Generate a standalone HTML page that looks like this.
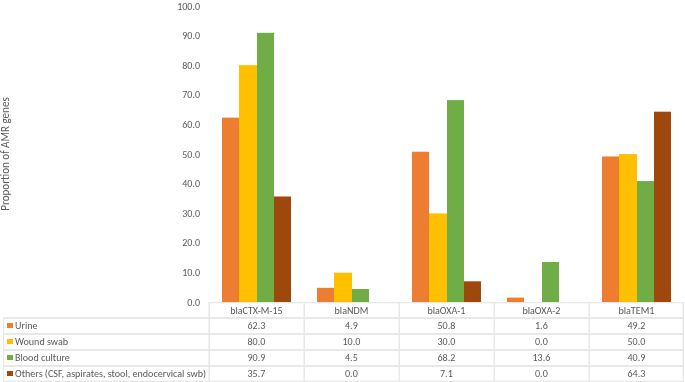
<!DOCTYPE html>
<html><head><meta charset="utf-8"><style>
html,body{margin:0;padding:0;background:#fff;}
body{width:685px;height:382px;position:relative;overflow:hidden;font-family:Carlito,"Liberation Sans",sans-serif;color:#595959;}
.a{position:absolute;}
.t{position:absolute;font-size:10.07px;line-height:12px;white-space:nowrap;}
.yl{position:absolute;right:485px;font-size:10px;line-height:12px;white-space:nowrap;}
.c{position:absolute;font-size:10.07px;line-height:12px;height:12px;text-align:center;white-space:nowrap;}
.k{position:absolute;width:6px;}
svg{position:absolute;left:0;top:0;}
</style></head><body>
<div class="a" style="left:-54.8px;top:146.9px;width:120px;height:14px;line-height:14px;font-size:11.08px;text-align:center;transform:rotate(-90deg);white-space:nowrap;">Proportion of AMR genes</div>
<div class="yl" style="top:296.60px">0.0</div>
<div class="yl" style="top:267.00px">10.0</div>
<div class="yl" style="top:237.40px">20.0</div>
<div class="yl" style="top:207.80px">30.0</div>
<div class="yl" style="top:178.20px">40.0</div>
<div class="yl" style="top:148.60px">50.0</div>
<div class="yl" style="top:119.00px">60.0</div>
<div class="yl" style="top:89.40px">70.0</div>
<div class="yl" style="top:59.80px">80.0</div>
<div class="yl" style="top:30.20px">90.0</div>
<div class="yl" style="top:0.60px">100.0</div>
<svg width="685" height="382" viewBox="0 0 685 382"><rect x="222" y="117.61" width="17" height="184.39" fill="#ED7D31"/><rect x="239" y="65.12" width="18" height="236.88" fill="#FFC000"/><rect x="257" y="32.80" width="17" height="269.20" fill="#70AD47"/><rect x="274" y="196.49" width="17" height="105.51" fill="#9E480E"/><rect x="317" y="287.82" width="17" height="14.18" fill="#ED7D31"/><rect x="334" y="272.70" width="18" height="29.30" fill="#FFC000"/><rect x="352" y="289.01" width="17" height="12.99" fill="#70AD47"/><rect x="412" y="151.71" width="17" height="150.29" fill="#ED7D31"/><rect x="429" y="213.39" width="18" height="88.61" fill="#FFC000"/><rect x="447" y="100.11" width="17" height="201.89" fill="#70AD47"/><rect x="464" y="281.30" width="17" height="20.70" fill="#9E480E"/><rect x="507" y="297.61" width="17" height="4.39" fill="#ED7D31"/><rect x="542" y="262.02" width="17" height="39.98" fill="#70AD47"/><rect x="602" y="156.45" width="17" height="145.55" fill="#ED7D31"/><rect x="619" y="154.08" width="18" height="147.92" fill="#FFC000"/><rect x="637" y="181.07" width="17" height="120.93" fill="#70AD47"/><rect x="654" y="111.67" width="17" height="190.33" fill="#9E480E"/><rect x="209" y="303" width="475" height="1" fill="#F8F8F8" shape-rendering="crispEdges"/><rect x="3" y="380" width="681" height="1" fill="#F6F6F6" shape-rendering="crispEdges"/><rect x="208" y="302" width="1" height="80" fill="#F2F2F2" shape-rendering="crispEdges"/><rect x="303" y="302" width="1" height="80" fill="#F2F2F2" shape-rendering="crispEdges"/><rect x="398" y="302" width="1" height="80" fill="#F2F2F2" shape-rendering="crispEdges"/><rect x="493" y="302" width="1" height="80" fill="#F2F2F2" shape-rendering="crispEdges"/><rect x="588" y="302" width="1" height="80" fill="#F2F2F2" shape-rendering="crispEdges"/><rect x="682" y="302" width="1" height="80" fill="#F2F2F2" shape-rendering="crispEdges"/><rect x="3" y="317" width="1" height="65" fill="#E8E8E8" shape-rendering="crispEdges"/><rect x="209" y="302" width="1" height="80" fill="#E8E8E8" shape-rendering="crispEdges"/><rect x="304" y="302" width="1" height="80" fill="#E8E8E8" shape-rendering="crispEdges"/><rect x="399" y="302" width="1" height="80" fill="#E8E8E8" shape-rendering="crispEdges"/><rect x="494" y="302" width="1" height="80" fill="#E8E8E8" shape-rendering="crispEdges"/><rect x="589" y="302" width="1" height="80" fill="#E8E8E8" shape-rendering="crispEdges"/><rect x="683" y="302" width="1" height="80" fill="#E8E8E8" shape-rendering="crispEdges"/><rect x="209" y="302" width="475" height="1" fill="#E8E8E8" shape-rendering="crispEdges"/><rect x="3" y="317" width="681" height="2" fill="#E8E8E8" shape-rendering="crispEdges"/><rect x="3" y="333" width="681" height="2" fill="#E8E8E8" shape-rendering="crispEdges"/><rect x="3" y="349" width="681" height="2" fill="#E8E8E8" shape-rendering="crispEdges"/><rect x="3" y="365" width="681" height="2" fill="#E8E8E8" shape-rendering="crispEdges"/><rect x="3" y="381" width="681" height="1" fill="#E8E8E8" shape-rendering="crispEdges"/></svg>
<div class="c" style="left:211.40px;width:90px;top:304.7px">blaCTX-M-15</div>
<div class="c" style="left:306.40px;width:90px;top:304.7px">blaNDM</div>
<div class="c" style="left:401.40px;width:90px;top:304.7px">blaOXA-1</div>
<div class="c" style="left:496.40px;width:90px;top:304.7px">blaOXA-2</div>
<div class="c" style="left:591.40px;width:90px;top:304.7px">blaTEM1</div>
<div class="k" style="left:7px;top:322.80px;height:5.5px;background:#ED7D31"></div>
<div class="t" style="left:15px;top:319.70px">Urine</div>
<div class="c" style="left:211.40px;width:90px;top:319.70px">62.3</div>
<div class="c" style="left:306.40px;width:90px;top:319.70px">4.9</div>
<div class="c" style="left:401.40px;width:90px;top:319.70px">50.8</div>
<div class="c" style="left:496.40px;width:90px;top:319.70px">1.6</div>
<div class="c" style="left:591.40px;width:90px;top:319.70px">49.2</div>
<div class="k" style="left:7px;top:338.80px;height:5.5px;background:#FFC000"></div>
<div class="t" style="left:15px;top:335.70px">Wound swab</div>
<div class="c" style="left:211.40px;width:90px;top:335.70px">80.0</div>
<div class="c" style="left:306.40px;width:90px;top:335.70px">10.0</div>
<div class="c" style="left:401.40px;width:90px;top:335.70px">30.0</div>
<div class="c" style="left:496.40px;width:90px;top:335.70px">0.0</div>
<div class="c" style="left:591.40px;width:90px;top:335.70px">50.0</div>
<div class="k" style="left:7px;top:354.80px;height:5.5px;background:#70AD47"></div>
<div class="t" style="left:15px;top:351.70px">Blood culture</div>
<div class="c" style="left:211.40px;width:90px;top:351.70px">90.9</div>
<div class="c" style="left:306.40px;width:90px;top:351.70px">4.5</div>
<div class="c" style="left:401.40px;width:90px;top:351.70px">68.2</div>
<div class="c" style="left:496.40px;width:90px;top:351.70px">13.6</div>
<div class="c" style="left:591.40px;width:90px;top:351.70px">40.9</div>
<div class="k" style="left:7px;top:370.80px;height:5.5px;background:#9E480E"></div>
<div class="t" style="left:15px;top:367.70px">Others (CSF, aspirates, stool, endocervical swb)</div>
<div class="c" style="left:211.40px;width:90px;top:367.70px">35.7</div>
<div class="c" style="left:306.40px;width:90px;top:367.70px">0.0</div>
<div class="c" style="left:401.40px;width:90px;top:367.70px">7.1</div>
<div class="c" style="left:496.40px;width:90px;top:367.70px">0.0</div>
<div class="c" style="left:591.40px;width:90px;top:367.70px">64.3</div>
</body></html>
